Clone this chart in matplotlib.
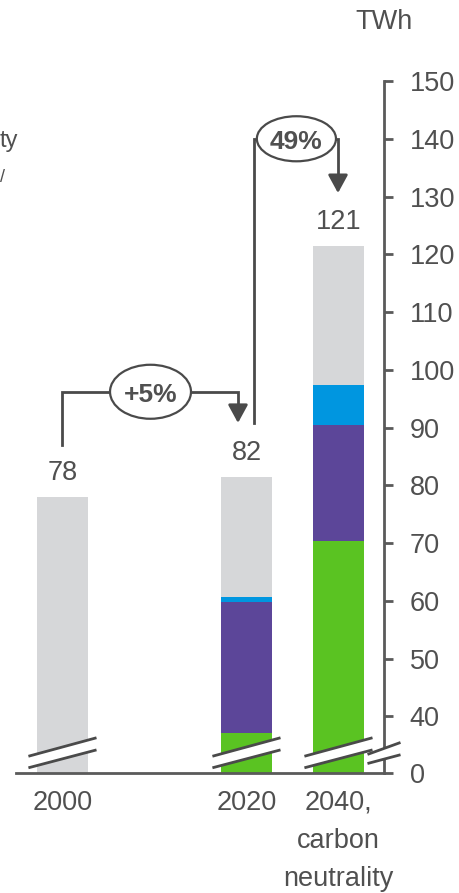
import numpy as np
import matplotlib
matplotlib.use('Agg')
import matplotlib.pyplot as plt
from matplotlib.patches import Ellipse, Polygon

plt.rcParams['font.family'] = ['Liberation Sans', 'DejaVu Sans']

# data (TWh)
categories = ['2000', '2020', '2040,\ncarbon\nneutrality']
positions = [0, 2, 3]
green = [0, 37.2, 70.3]
purple = [0, 22.6, 20.2]
blue = [0, 0.8, 6.9]
gray = [77.9, 20.9, 24.0]
totals = ['78', '82', '121']
growth = ['+5%', '49%']

colors = ['#5ac322', '#5c4699', '#0096e0', '#d6d7d9']
txt = '#505050'
line_c = '#4a4a4a'

Y0 = 30.2  # where "0" sits after the axis break
yticks = [40, 50, 60, 70, 80, 90, 100, 110, 120, 130, 140, 150]

fig = plt.figure(figsize=(4.59, 8.93), dpi=100)
ax = fig.add_axes([16/459, 120/893, 368/459, 692/893])

# stacked bars, bottom cut at the break
bw = 0.554
cum = np.zeros(3)
for seg, col in zip([green, purple, blue, gray], colors):
    seg = np.array(seg, dtype=float)
    lo = np.maximum(cum, Y0)
    hi = np.maximum(cum + seg, Y0)
    ax.bar(positions, hi - lo, bottom=lo, width=bw, color=col, zorder=2)
    cum = cum + seg

# total labels
for x, t, lbl in zip(positions, cum, totals):
    ax.text(x, t + 1.9, lbl, ha='center', va='bottom', fontsize=19.5, color=txt)

# break marks on the bars
for x in positions:
    xl, xr = x - 0.37, x + 0.37
    ax.add_patch(Polygon([(xl, 31.1), (xr, 34.2), (xr, 36.3), (xl, 33.1)],
                         closed=True, facecolor='white', edgecolor='none', zorder=3))
    ax.plot([xl, xr], [31.1, 34.2], color=line_c, lw=2, zorder=4, solid_capstyle='butt')
    ax.plot([xl, xr], [33.1, 36.3], color=line_c, lw=2, zorder=4, solid_capstyle='butt')

# break mark on the axis
ax.add_patch(Polygon([(3.33, 31.9), (3.66, 33.3), (3.66, 35.4), (3.33, 33.5)],
                     closed=True, facecolor='white', edgecolor='none', zorder=5, clip_on=False))
ax.plot([3.33, 3.66], [31.9, 33.3], color=line_c, lw=2, zorder=6, clip_on=False)
ax.plot([3.33, 3.66], [33.5, 35.4], color=line_c, lw=2, zorder=6, clip_on=False)

# growth brackets
def bracket(x0, y0, x1, ytop, ytip, ex, ew, eh, label):
    ax.plot([x0, x0, x1, x1], [y0, ytop, ytop, ytip + 2.2], color=line_c, lw=2,
            zorder=4, solid_joinstyle='miter')
    ax.annotate('', xy=(x1, ytip), xytext=(x1, ytip + 2.6),
                arrowprops=dict(arrowstyle='-|>,head_width=0.3,head_length=0.55',
                                color=line_c, lw=2, shrinkA=0, shrinkB=0,
                                mutation_scale=20), zorder=5)
    ax.add_patch(Ellipse((ex, ytop), ew, eh, facecolor='white', edgecolor=line_c,
                         lw=1.6, zorder=5))
    ax.text(ex, ytop - 0.6, label, ha='center', va='center', fontsize=19,
            fontweight='bold', color=txt, zorder=6)

bracket(0, 87.0, 1.908, 96.2, 90.8, 0.957, 0.88, 9.35, growth[0])
bracket(2.082, 90.8, 2.995, 140.0, 130.6, 2.543, 0.86, 7.8, growth[1])

# axes styling
ax.set_xlim(-0.505, 3.495)
ax.set_ylim(Y0, 150)
ax.spines['left'].set_visible(False)
ax.spines['top'].set_visible(False)
ax.spines['right'].set_color('#5a5a5a')
ax.spines['bottom'].set_color('#5a5a5a')
ax.spines['right'].set_linewidth(2)
ax.spines['bottom'].set_linewidth(2)

ax.yaxis.tick_right()
ax.set_yticks([Y0] + yticks)
ax.set_yticklabels(['0'] + [str(v) for v in yticks])
ax.tick_params(axis='y', direction='out', length=6.5, width=2, color='#5a5a5a',
               pad=12, labelsize=19.5, labelcolor=txt)

ax.set_xticks(positions)
ax.set_xticklabels(categories)
ax.tick_params(axis='x', length=0, pad=12, labelsize=19.5, labelcolor=txt)
for lbl in ax.get_xticklabels():
    lbl.set_linespacing(1.6)

fig.text(384.5/459, 1 - 22/893, 'TWh', ha='center', va='center', fontsize=19.5, color=txt)

# title fragments visible at the left edge
fig.text(0, 1 - 147/893, 'ty', ha='left', va='baseline', fontsize=17, color=txt)
fig.text(0, 1 - 182/893, '/', ha='left', va='baseline', fontsize=13, color=txt)

fig.savefig('out.png', dpi=100)
